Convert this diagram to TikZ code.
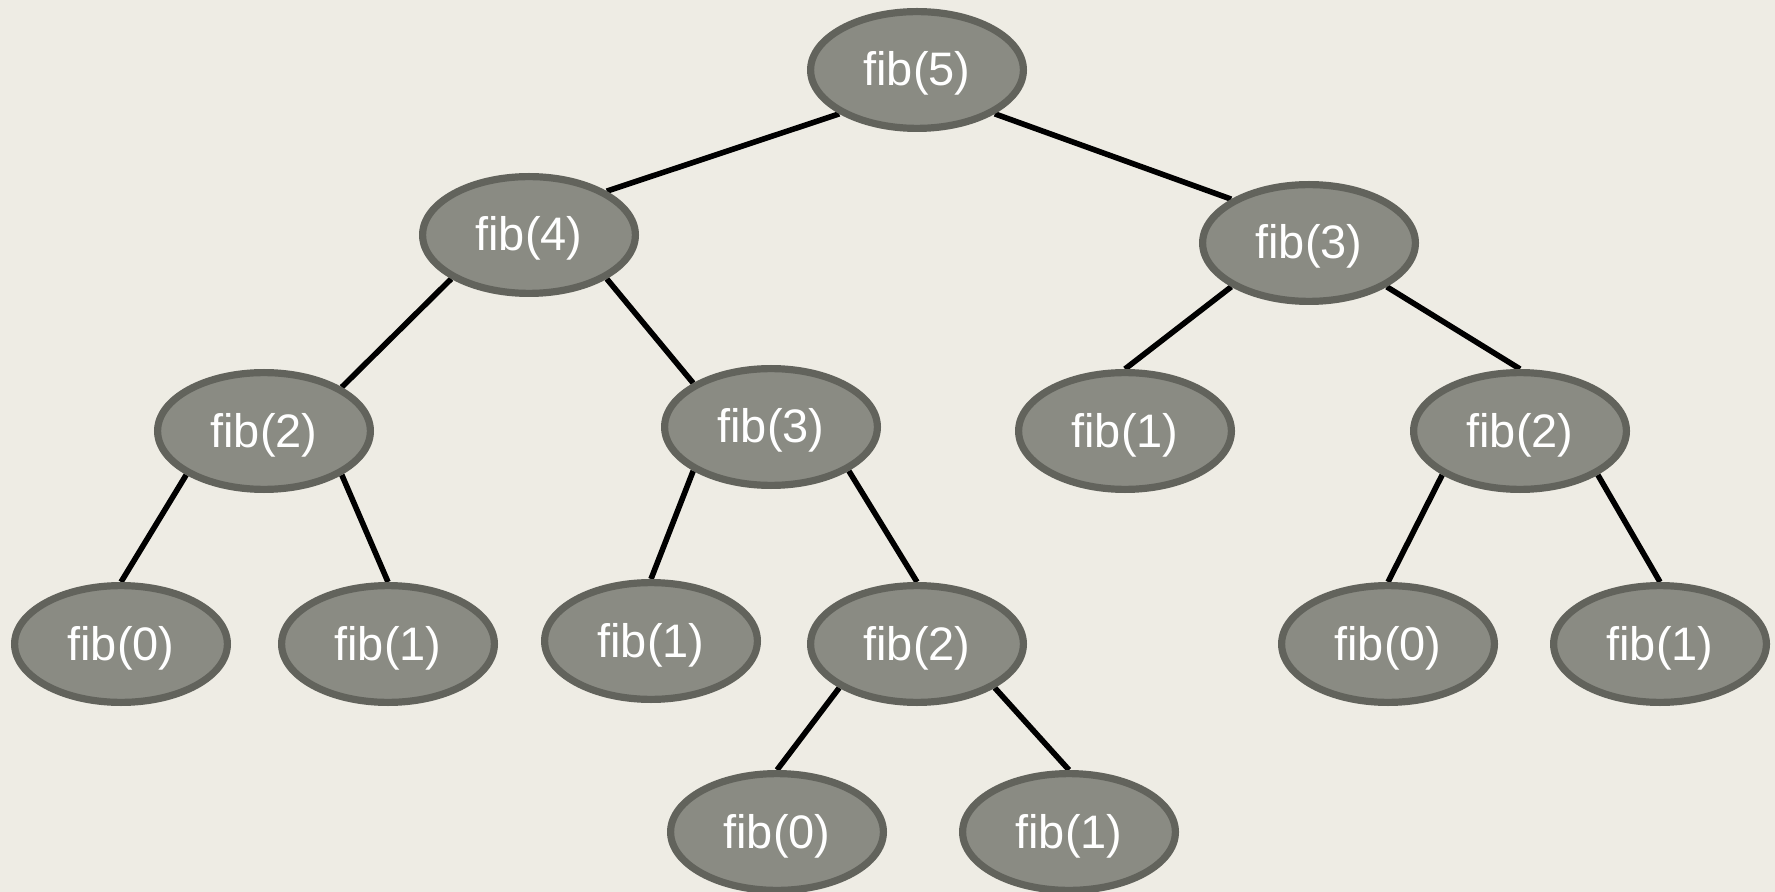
\documentclass[tikz,border=0pt]{standalone}
\usepackage{fontspec}
\setmainfont{Liberation Sans}
\usetikzlibrary{shapes.geometric,backgrounds}
\definecolor{bgc}{HTML}{EEECE4}
\definecolor{fillc}{HTML}{8A8B83}
\definecolor{borderc}{HTML}{62635C}
\begin{document}
\begin{tikzpicture}[x=0.5pt,y=-0.5pt,
  fibnode/.style={ellipse,draw=borderc,fill=fillc,line width=3.6pt,
    minimum width=106.4pt,minimum height=58.4pt,inner sep=0pt,
    text height=21pt,text depth=5pt,
    text=white,font=\fontsize{23.5}{28}\selectfont},
  edge/.style={black,line width=2.8pt}]
\useasboundingbox (0,0) rectangle (1775,892);
\node[fibnode] (f5) at (917,70) {fib(5)};
\node[fibnode] (f4) at (529,235) {fib(4)};
\node[fibnode] (f3R) at (1309,243) {fib(3)};
\node[fibnode] (f2L) at (264,431) {fib(2)};
\node[fibnode] (f3M) at (771,427) {fib(3)};
\node[fibnode] (f1a) at (1125,431) {fib(1)};
\node[fibnode] (f2R) at (1520,431) {fib(2)};
\node[fibnode] (f0a) at (121,644) {fib(0)};
\node[fibnode] (f1b) at (388,644) {fib(1)};
\node[fibnode] (f1c) at (651,641) {fib(1)};
\node[fibnode] (f2M) at (917,644) {fib(2)};
\node[fibnode] (f0b) at (1388,644) {fib(0)};
\node[fibnode] (f1d) at (1660,644) {fib(1)};
\node[fibnode] (f0c) at (777,832) {fib(0)};
\node[fibnode] (f1e) at (1069,832) {fib(1)};
\begin{scope}[on background layer]
\fill[bgc] (0,0) rectangle (1775,892);
\draw[edge] (f5.south west) -- (f4.north east);
\draw[edge] (f5.south east) -- (f3R.north west);
\draw[edge] (f4.south west) -- (f2L.north east);
\draw[edge] (f4.south east) -- (f3M.north west);
\draw[edge] (f3R.south west) -- (f1a.north);
\draw[edge] (f3R.south east) -- (f2R.north);
\draw[edge] (f2L.south west) -- (f0a.north);
\draw[edge] (f2L.south east) -- (f1b.north);
\draw[edge] (f3M.south west) -- (f1c.north);
\draw[edge] (f3M.south east) -- (f2M.north);
\draw[edge] (f2R.south west) -- (f0b.north);
\draw[edge] (f2R.south east) -- (f1d.north);
\draw[edge] (f2M.south west) -- (f0c.north);
\draw[edge] (f2M.south east) -- (f1e.north);
\end{scope}
\end{tikzpicture}
\end{document}
